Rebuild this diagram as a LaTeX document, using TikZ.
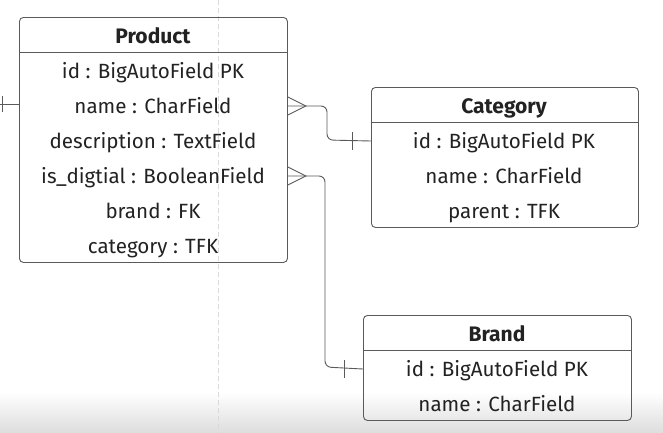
\documentclass[tikz,border=0pt]{standalone}
\usepackage{fontspec}
\setmainfont{Fira Sans}
\usetikzlibrary{calc}
\definecolor{edge}{HTML}{5A5A5A}
\definecolor{txt}{HTML}{222222}
\tikzset{
  ent/.style={draw=edge, line width=0.9pt, rounded corners=4pt, inner sep=0pt, anchor=north west},
  ttl/.style={font=\fontsize{21}{24}\selectfont\bfseries, text=txt, inner sep=0pt, text height=14.2pt, text depth=0pt},
  row/.style={font=\fontsize{20.6}{24}\selectfont, text=txt, inner sep=0pt, text height=14.2pt, text depth=0pt},
  rel/.style={draw=edge, line width=0.9pt, rounded corners=6pt},
  tick/.style={draw=edge, line width=0.9pt},
}
\begin{document}
\begin{tikzpicture}[x=1pt,y=-1pt]
\useasboundingbox (0,0) rectangle (663,432);
\fill[white] (0,0) rectangle (663,432);
\shade[top color=white, bottom color=black!13] (0,392) rectangle (663,432);
\draw[black!15, line width=0.8pt, dash pattern=on 5pt off 3pt] (218,0) -- (218,432);

% Product
\node[ent, minimum width=268pt, minimum height=245pt] (prod) at (19,17) {};
\draw[edge, line width=0.9pt] (19,52) -- (287,52);
\node[ttl] (pt) at (153,36) {Product};
\node[row] (p1) at (153,71) {id : BigAutoField PK};
\node[row] (p2) at (153,106) {name : CharField};
\node[row] (p3) at (153,141) {description : TextField};
\node[row] (p4) at (153,176) {is\_digtial : BooleanField};
\node[row] (p5) at (153,211) {brand : FK};
\node[row] (p6) at (153,246) {category : TFK};

% Category
\node[ent, minimum width=267pt, minimum height=140pt] (cat) at (371,87) {};
\draw[edge, line width=0.9pt] (371,122) -- (638,122);
\node[ttl] (ct) at (504,106) {Category};
\node[row] (c1) at (504,141) {id : BigAutoField PK};
\node[row] (c2) at (504,176) {name : CharField};
\node[row] (c3) at (504,211) {parent : TFK};

% Brand
\node[ent, minimum width=268pt, minimum height=105pt] (br) at (363,315) {};
\draw[edge, line width=0.9pt] (363,350) -- (631,350);
\node[ttl] (bt) at (497,334) {Brand};
\node[row] (b1) at (497,369) {id : BigAutoField PK};
\node[row] (b2) at (497,404) {name : CharField};

% connectors
\coordinate (a1) at (prod.east |- p2);
\coordinate (a1x) at ($(a1)+(18,0)$);
\coordinate (c1e) at (cat.west |- c1);
\draw[rel] (a1) -- (a1x) -- (327,106) -- (327,140) -- (c1e);
\draw[tick] ($(a1)+(0,-9)$) -- (a1x) -- ($(a1)+(0,9)$);
\draw[tick] ($(c1e)+(-19,-9)$) -- ($(c1e)+(-19,9)$);

\coordinate (a2) at (prod.east |- p4);
\coordinate (a2x) at ($(a2)+(18,0)$);
\coordinate (b1e) at (br.west |- b1);
\draw[rel] (a2) -- (a2x) -- (325,176) -- (325,367) -- (b1e);
\draw[tick] ($(a2)+(0,-9)$) -- (a2x) -- ($(a2)+(0,9)$);
\draw[tick] ($(b1e)+(-19,-9)$) -- ($(b1e)+(-19,9)$);

\coordinate (lft) at (0,104);
\coordinate (pw) at (prod.west |- lft);
\draw[rel] (lft) -- (pw);
\draw[tick] (2.5,96) -- (2.5,112);
\end{tikzpicture}
\end{document}
